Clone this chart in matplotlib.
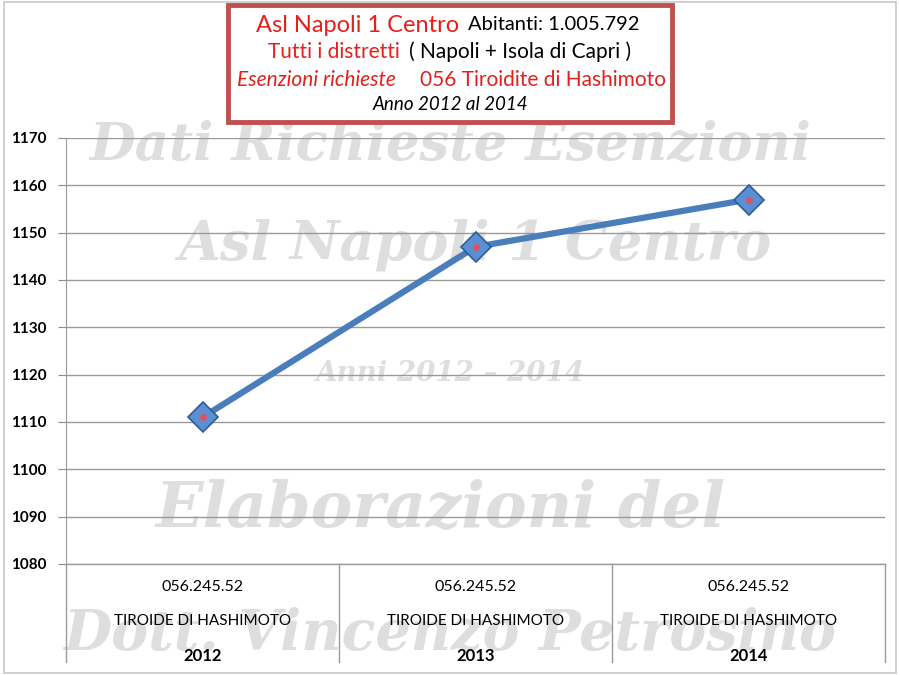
import numpy as np
import matplotlib.pyplot as plt
from matplotlib.patches import Rectangle
import matplotlib.transforms as mtransforms

plt.rcParams['font.family'] = ['Lato', 'DejaVu Sans']

# dati
anni = ['2012', '2013', '2014']
codice = ['056.245.52', '056.245.52', '056.245.52']
patologia = ['TIROIDE DI HASHIMOTO', 'TIROIDE DI HASHIMOTO', 'TIROIDE DI HASHIMOTO']
esenzioni = [1111, 1147, 1157]
y_ticks = [1080, 1090, 1100, 1110, 1120, 1130, 1140, 1150, 1160, 1170]

W, H = 900, 675
fig = plt.figure(figsize=(9, 6.75), dpi=100)
fig.patch.set_facecolor('white')

def px(x, y):
    return x / W, 1 - y / H

# cornice esterna
fig.patches.append(Rectangle((0.004, 0.003), 0.992, 0.994, transform=fig.transFigure,
                             fill=False, edgecolor='#C8C8C8', lw=1.2))

# filigrana (dietro al grafico)
wm = dict(color='#DEDEDE', fontstyle='italic', fontweight='bold', ha='center', va='center',
          family=['DejaVu Serif'], zorder=0)
fig.text(*px(450, 145), 'Dati Richieste Esenzioni', fontsize=38, **wm)
fig.text(*px(475, 245), 'Asl Napoli 1 Centro', fontsize=39, **wm)
fig.text(*px(450, 373), 'Anni 2012 – 2014', fontsize=20, **wm)
fig.text(*px(440, 510), 'Elaborazioni del', fontsize=45, **wm)
fig.text(*px(450, 635), 'Dott. Vincenzo Petrosino', fontsize=40, **wm)

ax = fig.add_axes([66 / W, 1 - 564 / H, 819 / W, 426 / H])
ax.set_zorder(1)
ax.set_facecolor('none')
x = np.arange(len(anni))
ax.set_xlim(-0.5, len(anni) - 0.5)
ax.set_ylim(1080, 1170)
ax.set_yticks(y_ticks)
ax.set_yticklabels([str(v) for v in y_ticks], fontsize=11, fontweight='bold')
ax.tick_params(axis='y', length=6, color='#8C8C8C', pad=8)
ax.set_xticks([])
ax.grid(axis='y', color='#9A9A9A', lw=1)
ax.set_axisbelow(True)
for s in ['top', 'right', 'bottom']:
    ax.spines[s].set_visible(False)
ax.spines['left'].set_color('#9A9A9A')
ax.axhline(1080, color='#9A9A9A', lw=1, clip_on=False)

# serie
ax.plot(x, esenzioni, color='#4A7EBB', lw=4.5, solid_capstyle='round', zorder=3)
ax.plot(x, esenzioni, 'D', ms=15, mfc='#5B8FD4', mec='#2F5C96', mew=1.2, zorder=4)
ax.plot(x, esenzioni, 'o', ms=5, mfc='#E05060', mec='none', zorder=5)

# asse categorie
trans = mtransforms.blended_transform_factory(ax.transData, ax.transAxes)
y_bot = -98 / 426
for b in np.arange(-0.5, len(anni), 1.0):
    ax.plot([b, b], [0, y_bot], transform=trans, color='#9A9A9A', lw=1, clip_on=False)
for i in range(len(anni)):
    ax.text(i, -23 / 426, codice[i], transform=trans, ha='center', va='center', fontsize=11.5)
    ax.text(i, -57 / 426, patologia[i], transform=trans, ha='center', va='center', fontsize=11)
    ax.text(i, -92 / 426, anni[i], transform=trans, ha='center', va='center', fontsize=12,
            fontweight='bold')

# riquadro titolo
fig.patches.append(Rectangle(px(228, 122), 444 / W, 117 / H, transform=fig.transFigure,
                             facecolor='white', edgecolor='#C0504D', lw=3.5, zorder=10))
rosso = '#E3201B'
fig.text(*px(256, 25), 'Asl Napoli 1 Centro', color=rosso, fontsize=17, va='center', zorder=11)
fig.text(*px(468, 25), 'Abitanti: 1.005.792', color='black', fontsize=14.5, va='center', zorder=11)
fig.text(*px(268, 52), 'Tutti i distretti', color=rosso, fontsize=15, va='center', zorder=11)
fig.text(*px(409, 52), '( Napoli + Isola di Capri )', color='black', fontsize=15, va='center', zorder=11)
fig.text(*px(237, 80), 'Esenzioni richieste', color=rosso, fontsize=15, fontstyle='italic',
         va='center', zorder=11)
fig.text(*px(420, 80), '056 Tiroidite di Hashimoto', color=rosso, fontsize=15, va='center', zorder=11)
fig.text(*px(450, 105), 'Anno 2012 al 2014', color='black', fontsize=13.5, fontstyle='italic',
         ha='center', va='center', zorder=11)

fig.savefig('out.png', dpi=100)
